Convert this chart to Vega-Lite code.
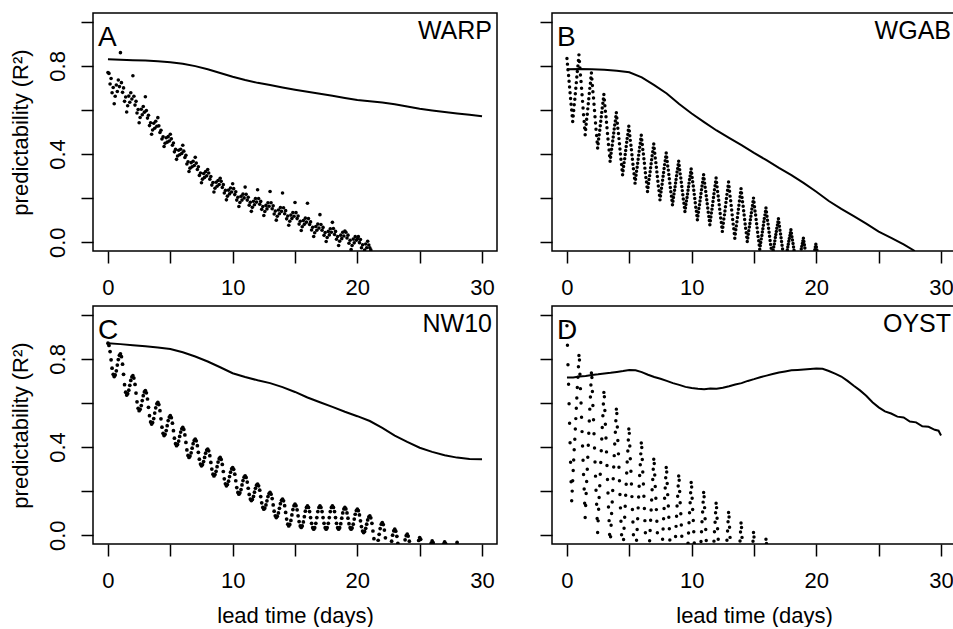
{
"$schema":"https://vega.github.io/schema/vega-lite/v6.json",
"padding":{"left":8,"top":12,"right":0,"bottom":0},
"columns":2,
"spacing":{"row":6,"column":40},
"config":{
"font":"Liberation Sans",
"view":{"stroke":"black","strokeWidth":1.5},
"text":{"color":"black","font":"Liberation Sans"},
"axis":{"domain":false,"grid":false,"tickColor":"black","tickWidth":1.5,"tickSize":12,"labelFont":"Liberation Sans","labelFontSize":22,"labelColor":"black","titleFont":"Liberation Sans","titleFontSize":22,"titleFontWeight":"normal","titleColor":"black","labelOverlap":false,"labelFlush":false},
"axisX":{"labelPadding":14,"titlePadding":14},
"axisY":{"labelAngle":-90,"labelAlign":"center","labelBaseline":"alphabetic","labelPadding":17,"titlePadding":14}
},
"datasets":{
"al":[{"x":0,"y":0.83},{"x":1,"y":0.828},{"x":2,"y":0.826},{"x":3,"y":0.824},{"x":4,"y":0.821},{"x":5,"y":0.817},{"x":6,"y":0.81},{"x":7,"y":0.799},{"x":8,"y":0.785},{"x":9,"y":0.768},{"x":10,"y":0.751},{"x":11,"y":0.736},{"x":12,"y":0.723},{"x":13,"y":0.713},{"x":14,"y":0.702},{"x":15,"y":0.692},{"x":16,"y":0.683},{"x":17,"y":0.674},{"x":18,"y":0.664},{"x":19,"y":0.654},{"x":20,"y":0.645},{"x":21,"y":0.639},{"x":22,"y":0.634},{"x":23,"y":0.626},{"x":24,"y":0.616},{"x":25,"y":0.606},{"x":26,"y":0.598},{"x":27,"y":0.591},{"x":28,"y":0.584},{"x":29,"y":0.578},{"x":30,"y":0.572}],
"bl":[{"x":0,"y":0.785},{"x":1,"y":0.786},{"x":2,"y":0.785},{"x":3,"y":0.782},{"x":4,"y":0.778},{"x":5,"y":0.771},{"x":6,"y":0.748},{"x":7,"y":0.713},{"x":8,"y":0.675},{"x":9,"y":0.627},{"x":10,"y":0.584},{"x":11,"y":0.545},{"x":12,"y":0.507},{"x":13,"y":0.473},{"x":14,"y":0.44},{"x":15,"y":0.405},{"x":16,"y":0.372},{"x":17,"y":0.337},{"x":18,"y":0.304},{"x":19,"y":0.268},{"x":20,"y":0.229},{"x":21,"y":0.187},{"x":22,"y":0.151},{"x":23,"y":0.118},{"x":24,"y":0.084},{"x":25,"y":0.048},{"x":26,"y":0.02},{"x":27,"y":-0.01},{"x":27.9,"y":-0.04}],
"cl":[{"x":0,"y":0.871},{"x":1,"y":0.867},{"x":2,"y":0.862},{"x":3,"y":0.857},{"x":4,"y":0.852},{"x":5,"y":0.845},{"x":6,"y":0.83},{"x":7,"y":0.811},{"x":8,"y":0.788},{"x":9,"y":0.762},{"x":10,"y":0.735},{"x":11,"y":0.718},{"x":12,"y":0.703},{"x":13,"y":0.69},{"x":14,"y":0.672},{"x":15,"y":0.65},{"x":16,"y":0.625},{"x":17,"y":0.603},{"x":18,"y":0.582},{"x":19,"y":0.56},{"x":20,"y":0.54},{"x":21,"y":0.518},{"x":22,"y":0.487},{"x":23,"y":0.452},{"x":24,"y":0.423},{"x":25,"y":0.397},{"x":26,"y":0.378},{"x":27,"y":0.363},{"x":28,"y":0.352},{"x":29,"y":0.346},{"x":30,"y":0.345}],
"dl":[{"x":0,"y":0.716},{"x":0.5,"y":0.716},{"x":1,"y":0.72},{"x":1.5,"y":0.722},{"x":2,"y":0.727},{"x":2.5,"y":0.73},{"x":3,"y":0.734},{"x":3.5,"y":0.737},{"x":4,"y":0.741},{"x":4.5,"y":0.745},{"x":5,"y":0.75},{"x":5.5,"y":0.748},{"x":6,"y":0.74},{"x":6.5,"y":0.728},{"x":7,"y":0.718},{"x":7.5,"y":0.71},{"x":8,"y":0.7},{"x":8.5,"y":0.69},{"x":9,"y":0.682},{"x":9.5,"y":0.673},{"x":10,"y":0.668},{"x":10.5,"y":0.664},{"x":11,"y":0.662},{"x":11.5,"y":0.666},{"x":12,"y":0.664},{"x":12.5,"y":0.669},{"x":13,"y":0.676},{"x":13.5,"y":0.684},{"x":14,"y":0.69},{"x":14.5,"y":0.7},{"x":15,"y":0.708},{"x":15.5,"y":0.717},{"x":16,"y":0.724},{"x":16.5,"y":0.731},{"x":17,"y":0.738},{"x":17.5,"y":0.743},{"x":18,"y":0.748},{"x":18.5,"y":0.75},{"x":19,"y":0.752},{"x":19.5,"y":0.754},{"x":20,"y":0.756},{"x":20.5,"y":0.755},{"x":21,"y":0.745},{"x":21.5,"y":0.733},{"x":22,"y":0.72},{"x":22.5,"y":0.7},{"x":23,"y":0.678},{"x":23.5,"y":0.657},{"x":24,"y":0.633},{"x":24.5,"y":0.603},{"x":25,"y":0.58},{"x":25.5,"y":0.562},{"x":26,"y":0.552},{"x":26.5,"y":0.538},{"x":27,"y":0.534},{"x":27.5,"y":0.516},{"x":28,"y":0.512},{"x":28.5,"y":0.494},{"x":29,"y":0.492},{"x":29.5,"y":0.478},{"x":29.8,"y":0.474},{"x":30,"y":0.452}],
"ad":[
{"x":0,"y":0.77},{"x":0.08,"y":0.766},{"x":0.17,"y":0.718},{"x":0.25,"y":0.743},{"x":0.33,"y":0.678},{"x":0.42,"y":0.702},{"x":0.5,"y":0.628},{"x":0.58,"y":0.662},{"x":0.67,"y":0.713},{"x":0.75,"y":0.684},{"x":0.83,"y":0.736},{"x":0.92,"y":0.706},
{"x":1,"y":0.86},{"x":1.08,"y":0.724},{"x":1.17,"y":0.68},{"x":1.25,"y":0.7},{"x":1.33,"y":0.639},{"x":1.42,"y":0.659},{"x":1.5,"y":0.591},{"x":1.58,"y":0.619},{"x":1.67,"y":0.663},{"x":1.75,"y":0.635},{"x":1.83,"y":0.678},{"x":1.92,"y":0.65},
{"x":2,"y":0.755},{"x":2.08,"y":0.662},{"x":2.17,"y":0.622},{"x":2.25,"y":0.639},{"x":2.33,"y":0.586},{"x":2.42,"y":0.602},{"x":2.5,"y":0.542},{"x":2.58,"y":0.566},{"x":2.67,"y":0.603},{"x":2.75,"y":0.578},{"x":2.83,"y":0.616},{"x":2.92,"y":0.59},
{"x":3,"y":0.66},{"x":3.08,"y":0.597},{"x":3.17,"y":0.563},{"x":3.25,"y":0.576},{"x":3.33,"y":0.529},{"x":3.42,"y":0.542},{"x":3.5,"y":0.49},{"x":3.58,"y":0.509},{"x":3.67,"y":0.54},{"x":3.75,"y":0.517},{"x":3.83,"y":0.549},{"x":3.92,"y":0.526},
{"x":4,"y":0.565},{"x":4.08,"y":0.528},{"x":4.17,"y":0.498},{"x":4.25,"y":0.508},{"x":4.33,"y":0.468},{"x":4.42,"y":0.478},{"x":4.5,"y":0.434},{"x":4.58,"y":0.449},{"x":4.67,"y":0.474},{"x":4.75,"y":0.454},{"x":4.83,"y":0.479},{"x":4.92,"y":0.459},
{"x":5,"y":0.49},{"x":5.08,"y":0.469},{"x":5.17,"y":0.44},{"x":5.25,"y":0.45},{"x":5.33,"y":0.41},{"x":5.42,"y":0.421},{"x":5.5,"y":0.376},{"x":5.58,"y":0.391},{"x":5.67,"y":0.417},{"x":5.75,"y":0.397},{"x":5.83,"y":0.422},{"x":5.92,"y":0.403},
{"x":6,"y":0.44},{"x":6.08,"y":0.413},{"x":6.17,"y":0.384},{"x":6.25,"y":0.394},{"x":6.33,"y":0.355},{"x":6.42,"y":0.365},{"x":6.5,"y":0.321},{"x":6.58,"y":0.336},{"x":6.67,"y":0.361},{"x":6.75,"y":0.342},{"x":6.83,"y":0.367},{"x":6.92,"y":0.348},
{"x":7,"y":0.385},{"x":7.08,"y":0.359},{"x":7.17,"y":0.33},{"x":7.25,"y":0.342},{"x":7.33,"y":0.303},{"x":7.42,"y":0.314},{"x":7.5,"y":0.27},{"x":7.58,"y":0.286},{"x":7.67,"y":0.312},{"x":7.75,"y":0.294},{"x":7.83,"y":0.32},{"x":7.92,"y":0.301},
{"x":8,"y":0.33},{"x":8.08,"y":0.314},{"x":8.17,"y":0.286},{"x":8.25,"y":0.298},{"x":8.33,"y":0.259},{"x":8.42,"y":0.271},{"x":8.5,"y":0.228},{"x":8.58,"y":0.245},{"x":8.67,"y":0.272},{"x":8.75,"y":0.254},{"x":8.83,"y":0.28},{"x":8.92,"y":0.262},
{"x":9,"y":0.29},{"x":9.08,"y":0.276},{"x":9.17,"y":0.248},{"x":9.25,"y":0.261},{"x":9.33,"y":0.223},{"x":9.42,"y":0.235},{"x":9.5,"y":0.192},{"x":9.58,"y":0.209},{"x":9.67,"y":0.236},{"x":9.75,"y":0.219},{"x":9.83,"y":0.246},{"x":9.92,"y":0.228},
{"x":10,"y":0.265},{"x":10.08,"y":0.243},{"x":10.17,"y":0.216},{"x":10.25,"y":0.229},{"x":10.33,"y":0.191},{"x":10.42,"y":0.204},{"x":10.5,"y":0.162},{"x":10.58,"y":0.18},{"x":10.67,"y":0.208},{"x":10.75,"y":0.191},{"x":10.83,"y":0.218},{"x":10.92,"y":0.201},
{"x":11,"y":0.25},{"x":11.08,"y":0.217},{"x":11.17,"y":0.191},{"x":11.25,"y":0.204},{"x":11.33,"y":0.168},{"x":11.42,"y":0.181},{"x":11.5,"y":0.14},{"x":11.58,"y":0.158},{"x":11.67,"y":0.186},{"x":11.75,"y":0.17},{"x":11.83,"y":0.198},{"x":11.92,"y":0.182},
{"x":12,"y":0.238},{"x":12.08,"y":0.198},{"x":12.17,"y":0.172},{"x":12.25,"y":0.185},{"x":12.33,"y":0.149},{"x":12.42,"y":0.162},{"x":12.5,"y":0.121},{"x":12.58,"y":0.139},{"x":12.67,"y":0.167},{"x":12.75,"y":0.151},{"x":12.83,"y":0.179},{"x":12.92,"y":0.163},
{"x":13,"y":0.23},{"x":13.08,"y":0.179},{"x":13.17,"y":0.152},{"x":13.25,"y":0.165},{"x":13.33,"y":0.128},{"x":13.42,"y":0.141},{"x":13.5,"y":0.1},{"x":13.58,"y":0.118},{"x":13.67,"y":0.146},{"x":13.75,"y":0.129},{"x":13.83,"y":0.157},{"x":13.92,"y":0.14},
{"x":14,"y":0.223},{"x":14.08,"y":0.156},{"x":14.17,"y":0.129},{"x":14.25,"y":0.143},{"x":14.33,"y":0.106},{"x":14.42,"y":0.119},{"x":14.5,"y":0.077},{"x":14.58,"y":0.095},{"x":14.67,"y":0.123},{"x":14.75,"y":0.107},{"x":14.83,"y":0.135},{"x":14.92,"y":0.118},
{"x":15,"y":0.18},{"x":15.08,"y":0.134},{"x":15.17,"y":0.107},{"x":15.25,"y":0.119},{"x":15.33,"y":0.082},{"x":15.42,"y":0.095},{"x":15.5,"y":0.053},{"x":15.58,"y":0.07},{"x":15.67,"y":0.098},{"x":15.75,"y":0.081},{"x":15.83,"y":0.109},{"x":15.92,"y":0.091},
{"x":16,"y":0.177},{"x":16.08,"y":0.107},{"x":16.17,"y":0.08},{"x":16.25,"y":0.092},{"x":16.33,"y":0.055},{"x":16.42,"y":0.068},{"x":16.5,"y":0.026},{"x":16.58,"y":0.043},{"x":16.67,"y":0.071},{"x":16.75,"y":0.054},{"x":16.83,"y":0.082},{"x":16.92,"y":0.064},
{"x":17,"y":0.125},{"x":17.08,"y":0.08},{"x":17.17,"y":0.054},{"x":17.25,"y":0.067},{"x":17.33,"y":0.031},{"x":17.42,"y":0.044},{"x":17.5,"y":0.003},{"x":17.58,"y":0.021},{"x":17.67,"y":0.049},{"x":17.75,"y":0.033},{"x":17.83,"y":0.061},{"x":17.92,"y":0.045},
{"x":18,"y":0.09},{"x":18.08,"y":0.062},{"x":18.17,"y":0.035},{"x":18.25,"y":0.049},{"x":18.33,"y":0.013},{"x":18.42,"y":0.026},{"x":18.5,"y":-0.015},{"x":18.58,"y":0.004},{"x":18.67,"y":0.032},{"x":18.75,"y":0.016},{"x":18.83,"y":0.045},{"x":18.92,"y":0.028},
{"x":19,"y":0.05},{"x":19.08,"y":0.045},{"x":19.17,"y":0.019},{"x":19.25,"y":0.032},{"x":19.33,"y":-0.005},{"x":19.42,"y":0.009},{"x":19.5,"y":-0.033},{"x":19.58,"y":-0.015},{"x":19.67,"y":0.014},{"x":19.75,"y":-0.003},{"x":19.83,"y":0.025},{"x":19.92,"y":0.009},
{"x":20,"y":0.015},{"x":20.08,"y":0.025},{"x":20.17,"y":-0.002},{"x":20.25,"y":0.012},{"x":20.33,"y":-0.025},{"x":20.42,"y":-0.012},{"x":20.58,"y":-0.036},{"x":20.67,"y":-0.008},{"x":20.75,"y":-0.025},{"x":20.83,"y":0.004},{"x":20.92,"y":-0.013},
{"x":21,"y":-0.025},{"x":21.08,"y":-0.035}
],
"bd":[
{"x":0,"y":0.834},{"x":0.04,"y":0.808},{"x":0.08,"y":0.782},{"x":0.13,"y":0.756},{"x":0.17,"y":0.73},{"x":0.21,"y":0.704},{"x":0.25,"y":0.678},{"x":0.29,"y":0.652},{"x":0.33,"y":0.626},{"x":0.38,"y":0.6},{"x":0.42,"y":0.574},{"x":0.46,"y":0.548},{"x":0.5,"y":0.573},{"x":0.54,"y":0.598},{"x":0.58,"y":0.624},{"x":0.63,"y":0.649},{"x":0.67,"y":0.674},{"x":0.71,"y":0.699},{"x":0.75,"y":0.724},{"x":0.79,"y":0.75},{"x":0.83,"y":0.775},{"x":0.88,"y":0.8},{"x":0.92,"y":0.825},
{"x":0.96,"y":0.85},{"x":1,"y":0.82},{"x":1.04,"y":0.79},{"x":1.08,"y":0.759},{"x":1.13,"y":0.729},{"x":1.17,"y":0.699},{"x":1.21,"y":0.669},{"x":1.25,"y":0.639},{"x":1.29,"y":0.609},{"x":1.33,"y":0.578},{"x":1.38,"y":0.548},{"x":1.42,"y":0.518},{"x":1.46,"y":0.488},{"x":1.5,"y":0.511},{"x":1.54,"y":0.535},{"x":1.58,"y":0.558},{"x":1.63,"y":0.581},{"x":1.67,"y":0.605},{"x":1.71,"y":0.628},{"x":1.75,"y":0.651},{"x":1.79,"y":0.675},{"x":1.83,"y":0.698},{"x":1.88,"y":0.721},{"x":1.92,"y":0.745},
{"x":1.96,"y":0.768},{"x":2,"y":0.74},{"x":2.04,"y":0.711},{"x":2.08,"y":0.683},{"x":2.13,"y":0.654},{"x":2.17,"y":0.626},{"x":2.21,"y":0.598},{"x":2.25,"y":0.569},{"x":2.29,"y":0.541},{"x":2.33,"y":0.512},{"x":2.38,"y":0.484},{"x":2.42,"y":0.455},{"x":2.46,"y":0.427},{"x":2.5,"y":0.447},{"x":2.54,"y":0.468},{"x":2.58,"y":0.488},{"x":2.63,"y":0.508},{"x":2.67,"y":0.528},{"x":2.71,"y":0.549},{"x":2.75,"y":0.569},{"x":2.79,"y":0.589},{"x":2.83,"y":0.609},{"x":2.88,"y":0.63},{"x":2.92,"y":0.65},
{"x":2.96,"y":0.67},{"x":3,"y":0.645},{"x":3.04,"y":0.619},{"x":3.08,"y":0.594},{"x":3.13,"y":0.569},{"x":3.17,"y":0.544},{"x":3.21,"y":0.519},{"x":3.25,"y":0.493},{"x":3.29,"y":0.468},{"x":3.33,"y":0.443},{"x":3.38,"y":0.418},{"x":3.42,"y":0.392},{"x":3.46,"y":0.367},{"x":3.5,"y":0.385},{"x":3.54,"y":0.404},{"x":3.58,"y":0.422},{"x":3.63,"y":0.44},{"x":3.67,"y":0.459},{"x":3.71,"y":0.477},{"x":3.75,"y":0.495},{"x":3.79,"y":0.514},{"x":3.83,"y":0.532},{"x":3.88,"y":0.55},{"x":3.92,"y":0.569},
{"x":3.96,"y":0.587},{"x":4,"y":0.564},{"x":4.04,"y":0.54},{"x":4.08,"y":0.517},{"x":4.13,"y":0.493},{"x":4.17,"y":0.47},{"x":4.21,"y":0.447},{"x":4.25,"y":0.423},{"x":4.29,"y":0.4},{"x":4.33,"y":0.376},{"x":4.38,"y":0.353},{"x":4.42,"y":0.329},{"x":4.46,"y":0.306},{"x":4.5,"y":0.324},{"x":4.54,"y":0.343},{"x":4.58,"y":0.361},{"x":4.63,"y":0.379},{"x":4.67,"y":0.398},{"x":4.71,"y":0.416},{"x":4.75,"y":0.434},{"x":4.79,"y":0.453},{"x":4.83,"y":0.471},{"x":4.88,"y":0.489},{"x":4.92,"y":0.508},
{"x":4.96,"y":0.526},{"x":5,"y":0.505},{"x":5.04,"y":0.483},{"x":5.08,"y":0.462},{"x":5.13,"y":0.44},{"x":5.17,"y":0.419},{"x":5.21,"y":0.397},{"x":5.25,"y":0.376},{"x":5.29,"y":0.354},{"x":5.33,"y":0.333},{"x":5.38,"y":0.311},{"x":5.42,"y":0.29},{"x":5.46,"y":0.268},{"x":5.5,"y":0.286},{"x":5.54,"y":0.304},{"x":5.58,"y":0.322},{"x":5.63,"y":0.34},{"x":5.67,"y":0.358},{"x":5.71,"y":0.376},{"x":5.75,"y":0.395},{"x":5.79,"y":0.413},{"x":5.83,"y":0.431},{"x":5.88,"y":0.449},{"x":5.92,"y":0.467},
{"x":5.96,"y":0.485},{"x":6,"y":0.464},{"x":6.04,"y":0.443},{"x":6.08,"y":0.421},{"x":6.13,"y":0.4},{"x":6.17,"y":0.379},{"x":6.21,"y":0.358},{"x":6.25,"y":0.336},{"x":6.29,"y":0.315},{"x":6.33,"y":0.294},{"x":6.38,"y":0.273},{"x":6.42,"y":0.251},{"x":6.46,"y":0.23},{"x":6.5,"y":0.248},{"x":6.54,"y":0.266},{"x":6.58,"y":0.284},{"x":6.63,"y":0.302},{"x":6.67,"y":0.32},{"x":6.71,"y":0.338},{"x":6.75,"y":0.356},{"x":6.79,"y":0.374},{"x":6.83,"y":0.392},{"x":6.88,"y":0.41},{"x":6.92,"y":0.428},
{"x":6.96,"y":0.446},{"x":7,"y":0.425},{"x":7.04,"y":0.404},{"x":7.08,"y":0.382},{"x":7.13,"y":0.361},{"x":7.17,"y":0.34},{"x":7.21,"y":0.319},{"x":7.25,"y":0.298},{"x":7.29,"y":0.277},{"x":7.33,"y":0.255},{"x":7.38,"y":0.234},{"x":7.42,"y":0.213},{"x":7.46,"y":0.192},{"x":7.5,"y":0.21},{"x":7.54,"y":0.228},{"x":7.58,"y":0.245},{"x":7.63,"y":0.263},{"x":7.67,"y":0.281},{"x":7.71,"y":0.299},{"x":7.75,"y":0.316},{"x":7.79,"y":0.334},{"x":7.83,"y":0.352},{"x":7.88,"y":0.37},{"x":7.92,"y":0.387},
{"x":7.96,"y":0.405},{"x":8,"y":0.385},{"x":8.04,"y":0.366},{"x":8.08,"y":0.346},{"x":8.13,"y":0.327},{"x":8.17,"y":0.307},{"x":8.21,"y":0.288},{"x":8.25,"y":0.268},{"x":8.29,"y":0.248},{"x":8.33,"y":0.229},{"x":8.38,"y":0.209},{"x":8.42,"y":0.19},{"x":8.46,"y":0.17},{"x":8.5,"y":0.186},{"x":8.54,"y":0.203},{"x":8.58,"y":0.219},{"x":8.63,"y":0.236},{"x":8.67,"y":0.252},{"x":8.71,"y":0.269},{"x":8.75,"y":0.285},{"x":8.79,"y":0.301},{"x":8.83,"y":0.318},{"x":8.88,"y":0.334},{"x":8.92,"y":0.351},
{"x":8.96,"y":0.367},{"x":9,"y":0.348},{"x":9.04,"y":0.329},{"x":9.08,"y":0.31},{"x":9.13,"y":0.291},{"x":9.17,"y":0.272},{"x":9.21,"y":0.253},{"x":9.25,"y":0.234},{"x":9.29,"y":0.215},{"x":9.33,"y":0.196},{"x":9.38,"y":0.177},{"x":9.42,"y":0.158},{"x":9.46,"y":0.139},{"x":9.5,"y":0.155},{"x":9.54,"y":0.171},{"x":9.58,"y":0.187},{"x":9.63,"y":0.203},{"x":9.67,"y":0.219},{"x":9.71,"y":0.236},{"x":9.75,"y":0.252},{"x":9.79,"y":0.268},{"x":9.83,"y":0.284},{"x":9.88,"y":0.3},{"x":9.92,"y":0.316},
{"x":9.96,"y":0.332},{"x":10,"y":0.313},{"x":10.04,"y":0.294},{"x":10.08,"y":0.274},{"x":10.13,"y":0.255},{"x":10.17,"y":0.236},{"x":10.21,"y":0.217},{"x":10.25,"y":0.198},{"x":10.29,"y":0.179},{"x":10.33,"y":0.159},{"x":10.38,"y":0.14},{"x":10.42,"y":0.121},{"x":10.46,"y":0.102},{"x":10.5,"y":0.119},{"x":10.54,"y":0.136},{"x":10.58,"y":0.153},{"x":10.63,"y":0.17},{"x":10.67,"y":0.187},{"x":10.71,"y":0.204},{"x":10.75,"y":0.221},{"x":10.79,"y":0.238},{"x":10.83,"y":0.255},{"x":10.88,"y":0.272},{"x":10.92,"y":0.289},
{"x":10.96,"y":0.306},{"x":11,"y":0.287},{"x":11.04,"y":0.268},{"x":11.08,"y":0.249},{"x":11.13,"y":0.23},{"x":11.17,"y":0.211},{"x":11.21,"y":0.193},{"x":11.25,"y":0.174},{"x":11.29,"y":0.155},{"x":11.33,"y":0.136},{"x":11.38,"y":0.117},{"x":11.42,"y":0.098},{"x":11.46,"y":0.079},{"x":11.5,"y":0.097},{"x":11.54,"y":0.114},{"x":11.58,"y":0.132},{"x":11.63,"y":0.15},{"x":11.67,"y":0.167},{"x":11.71,"y":0.185},{"x":11.75,"y":0.203},{"x":11.79,"y":0.22},{"x":11.83,"y":0.238},{"x":11.88,"y":0.256},{"x":11.92,"y":0.273},
{"x":11.96,"y":0.291},{"x":12,"y":0.271},{"x":12.04,"y":0.251},{"x":12.08,"y":0.23},{"x":12.13,"y":0.21},{"x":12.17,"y":0.19},{"x":12.21,"y":0.17},{"x":12.25,"y":0.15},{"x":12.29,"y":0.13},{"x":12.33,"y":0.11},{"x":12.38,"y":0.089},{"x":12.42,"y":0.069},{"x":12.46,"y":0.049},{"x":12.5,"y":0.068},{"x":12.54,"y":0.086},{"x":12.58,"y":0.105},{"x":12.63,"y":0.124},{"x":12.67,"y":0.142},{"x":12.71,"y":0.161},{"x":12.75,"y":0.18},{"x":12.79,"y":0.198},{"x":12.83,"y":0.217},{"x":12.88,"y":0.236},{"x":12.92,"y":0.254},
{"x":12.96,"y":0.273},{"x":13,"y":0.252},{"x":13.04,"y":0.231},{"x":13.08,"y":0.209},{"x":13.13,"y":0.188},{"x":13.17,"y":0.167},{"x":13.21,"y":0.146},{"x":13.25,"y":0.124},{"x":13.29,"y":0.103},{"x":13.33,"y":0.082},{"x":13.38,"y":0.061},{"x":13.42,"y":0.039},{"x":13.46,"y":0.018},{"x":13.5,"y":0.037},{"x":13.54,"y":0.056},{"x":13.58,"y":0.074},{"x":13.63,"y":0.093},{"x":13.67,"y":0.112},{"x":13.71,"y":0.131},{"x":13.75,"y":0.149},{"x":13.79,"y":0.168},{"x":13.83,"y":0.187},{"x":13.88,"y":0.206},{"x":13.92,"y":0.224},
{"x":13.96,"y":0.243},{"x":14,"y":0.223},{"x":14.04,"y":0.203},{"x":14.08,"y":0.183},{"x":14.13,"y":0.163},{"x":14.17,"y":0.143},{"x":14.21,"y":0.123},{"x":14.25,"y":0.103},{"x":14.29,"y":0.083},{"x":14.33,"y":0.063},{"x":14.38,"y":0.043},{"x":14.42,"y":0.023},{"x":14.46,"y":0.003},{"x":14.5,"y":0.019},{"x":14.54,"y":0.036},{"x":14.58,"y":0.052},{"x":14.63,"y":0.069},{"x":14.67,"y":0.085},{"x":14.71,"y":0.102},{"x":14.75,"y":0.118},{"x":14.79,"y":0.134},{"x":14.83,"y":0.151},{"x":14.88,"y":0.167},{"x":14.92,"y":0.184},
{"x":14.96,"y":0.2},{"x":15,"y":0.181},{"x":15.04,"y":0.161},{"x":15.08,"y":0.142},{"x":15.13,"y":0.123},{"x":15.17,"y":0.103},{"x":15.21,"y":0.084},{"x":15.25,"y":0.065},{"x":15.29,"y":0.045},{"x":15.33,"y":0.026},{"x":15.38,"y":0.007},{"x":15.42,"y":-0.013},{"x":15.46,"y":-0.032},{"x":15.5,"y":-0.016},{"x":15.54,"y":-0.001},{"x":15.58,"y":0.015},{"x":15.63,"y":0.03},{"x":15.67,"y":0.046},{"x":15.71,"y":0.061},{"x":15.75,"y":0.077},{"x":15.79,"y":0.093},{"x":15.83,"y":0.108},{"x":15.88,"y":0.124},{"x":15.92,"y":0.139},
{"x":15.96,"y":0.155},{"x":16,"y":0.137},{"x":16.04,"y":0.118},{"x":16.08,"y":0.1},{"x":16.13,"y":0.082},{"x":16.17,"y":0.063},{"x":16.21,"y":0.045},{"x":16.25,"y":0.027},{"x":16.29,"y":0.008},{"x":16.33,"y":-0.01},{"x":16.38,"y":-0.028},{"x":16.54,"y":-0.037},{"x":16.58,"y":-0.022},{"x":16.63,"y":-0.008},{"x":16.67,"y":0.006},{"x":16.71,"y":0.021},{"x":16.75,"y":0.035},{"x":16.79,"y":0.049},{"x":16.83,"y":0.063},{"x":16.88,"y":0.078},{"x":16.92,"y":0.092},
{"x":16.96,"y":0.106},{"x":17,"y":0.089},{"x":17.04,"y":0.072},{"x":17.08,"y":0.054},{"x":17.13,"y":0.037},{"x":17.17,"y":0.02},{"x":17.21,"y":0.003},{"x":17.25,"y":-0.014},{"x":17.29,"y":-0.031},{"x":17.67,"y":-0.035},{"x":17.71,"y":-0.022},{"x":17.75,"y":-0.009},{"x":17.79,"y":0.004},{"x":17.83,"y":0.017},{"x":17.88,"y":0.03},{"x":17.92,"y":0.043},
{"x":17.96,"y":0.056},{"x":18,"y":0.041},{"x":18.04,"y":0.025},{"x":18.08,"y":0.01},{"x":18.13,"y":-0.006},{"x":18.17,"y":-0.022},{"x":18.21,"y":-0.037},{"x":18.79,"y":-0.031},{"x":18.83,"y":-0.019},{"x":18.88,"y":-0.006},{"x":18.92,"y":0.006},
{"x":18.96,"y":0.018},{"x":19,"y":0.003},{"x":19.04,"y":-0.012},{"x":19.08,"y":-0.026},{"x":19.88,"y":-0.034},{"x":19.92,"y":-0.022},
{"x":19.96,"y":-0.009},{"x":20,"y":-0.022},{"x":20.04,"y":-0.035}
],
"cd":[
{"x":0,"y":0.871},{"x":0.08,"y":0.861},{"x":0.17,"y":0.833},{"x":0.25,"y":0.796},{"x":0.33,"y":0.758},{"x":0.42,"y":0.73},{"x":0.5,"y":0.72},{"x":0.58,"y":0.727},{"x":0.67,"y":0.746},{"x":0.75,"y":0.772},{"x":0.83,"y":0.797},{"x":0.92,"y":0.816},
{"x":1,"y":0.823},{"x":1.08,"y":0.81},{"x":1.17,"y":0.776},{"x":1.25,"y":0.73},{"x":1.33,"y":0.683},{"x":1.42,"y":0.649},{"x":1.5,"y":0.636},{"x":1.58,"y":0.642},{"x":1.67,"y":0.658},{"x":1.75,"y":0.68},{"x":1.83,"y":0.702},{"x":1.92,"y":0.718},
{"x":2,"y":0.724},{"x":2.08,"y":0.713},{"x":2.17,"y":0.684},{"x":2.25,"y":0.645},{"x":2.33,"y":0.605},{"x":2.42,"y":0.576},{"x":2.5,"y":0.565},{"x":2.58,"y":0.571},{"x":2.67,"y":0.588},{"x":2.75,"y":0.611},{"x":2.83,"y":0.633},{"x":2.92,"y":0.65},
{"x":3,"y":0.656},{"x":3.08,"y":0.646},{"x":3.17,"y":0.618},{"x":3.25,"y":0.58},{"x":3.33,"y":0.542},{"x":3.42,"y":0.514},{"x":3.5,"y":0.504},{"x":3.58,"y":0.511},{"x":3.67,"y":0.529},{"x":3.75,"y":0.554},{"x":3.83,"y":0.578},{"x":3.92,"y":0.596},
{"x":4,"y":0.603},{"x":4.08,"y":0.593},{"x":4.17,"y":0.565},{"x":4.25,"y":0.528},{"x":4.33,"y":0.49},{"x":4.42,"y":0.462},{"x":4.5,"y":0.452},{"x":4.58,"y":0.458},{"x":4.67,"y":0.475},{"x":4.75,"y":0.497},{"x":4.83,"y":0.52},{"x":4.92,"y":0.536},
{"x":5,"y":0.542},{"x":5.08,"y":0.533},{"x":5.17,"y":0.508},{"x":5.25,"y":0.474},{"x":5.33,"y":0.44},{"x":5.42,"y":0.415},{"x":5.5,"y":0.406},{"x":5.58,"y":0.412},{"x":5.67,"y":0.427},{"x":5.75,"y":0.448},{"x":5.83,"y":0.468},{"x":5.92,"y":0.483},
{"x":6,"y":0.489},{"x":6.08,"y":0.48},{"x":6.17,"y":0.455},{"x":6.25,"y":0.421},{"x":6.33,"y":0.387},{"x":6.42,"y":0.362},{"x":6.5,"y":0.353},{"x":6.58,"y":0.359},{"x":6.67,"y":0.374},{"x":6.75,"y":0.395},{"x":6.83,"y":0.415},{"x":6.92,"y":0.43},
{"x":7,"y":0.436},{"x":7.08,"y":0.428},{"x":7.17,"y":0.406},{"x":7.25,"y":0.376},{"x":7.33,"y":0.345},{"x":7.42,"y":0.323},{"x":7.5,"y":0.315},{"x":7.58,"y":0.32},{"x":7.67,"y":0.334},{"x":7.75,"y":0.353},{"x":7.83,"y":0.372},{"x":7.92,"y":0.386},
{"x":8,"y":0.391},{"x":8.08,"y":0.383},{"x":8.17,"y":0.361},{"x":8.25,"y":0.33},{"x":8.33,"y":0.3},{"x":8.42,"y":0.277},{"x":8.5,"y":0.269},{"x":8.58,"y":0.275},{"x":8.67,"y":0.29},{"x":8.75,"y":0.311},{"x":8.83,"y":0.332},{"x":8.92,"y":0.347},
{"x":9,"y":0.353},{"x":9.08,"y":0.344},{"x":9.17,"y":0.321},{"x":9.25,"y":0.289},{"x":9.33,"y":0.256},{"x":9.42,"y":0.233},{"x":9.5,"y":0.224},{"x":9.58,"y":0.23},{"x":9.67,"y":0.245},{"x":9.75,"y":0.266},{"x":9.83,"y":0.286},{"x":9.92,"y":0.301},
{"x":10,"y":0.307},{"x":10.08,"y":0.299},{"x":10.17,"y":0.277},{"x":10.25,"y":0.247},{"x":10.33,"y":0.216},{"x":10.42,"y":0.194},{"x":10.5,"y":0.186},{"x":10.58,"y":0.192},{"x":10.67,"y":0.207},{"x":10.75,"y":0.228},{"x":10.83,"y":0.248},{"x":10.92,"y":0.263},
{"x":11,"y":0.269},{"x":11.08,"y":0.262},{"x":11.17,"y":0.241},{"x":11.25,"y":0.213},{"x":11.33,"y":0.185},{"x":11.42,"y":0.164},{"x":11.5,"y":0.157},{"x":11.58,"y":0.162},{"x":11.67,"y":0.176},{"x":11.75,"y":0.195},{"x":11.83,"y":0.213},{"x":11.92,"y":0.227},
{"x":12,"y":0.232},{"x":12.08,"y":0.224},{"x":12.17,"y":0.204},{"x":12.25,"y":0.175},{"x":12.33,"y":0.147},{"x":12.42,"y":0.126},{"x":12.5,"y":0.118},{"x":12.58,"y":0.123},{"x":12.67,"y":0.137},{"x":12.75,"y":0.156},{"x":12.83,"y":0.175},{"x":12.92,"y":0.189},
{"x":13,"y":0.194},{"x":13.08,"y":0.186},{"x":13.17,"y":0.166},{"x":13.25,"y":0.137},{"x":13.33,"y":0.109},{"x":13.42,"y":0.088},{"x":13.5,"y":0.08},{"x":13.58,"y":0.086},{"x":13.67,"y":0.101},{"x":13.75,"y":0.122},{"x":13.83,"y":0.143},{"x":13.92,"y":0.158},
{"x":14,"y":0.164},{"x":14.08,"y":0.156},{"x":14.17,"y":0.134},{"x":14.25,"y":0.103},{"x":14.33,"y":0.073},{"x":14.42,"y":0.05},{"x":14.5,"y":0.042},{"x":14.58,"y":0.049},{"x":14.67,"y":0.067},{"x":14.75,"y":0.092},{"x":14.83,"y":0.116},{"x":14.92,"y":0.134},
{"x":15,"y":0.141},{"x":15.08,"y":0.134},{"x":15.17,"y":0.115},{"x":15.25,"y":0.088},{"x":15.33,"y":0.062},{"x":15.42,"y":0.042},{"x":15.5,"y":0.035},{"x":15.58,"y":0.042},{"x":15.67,"y":0.06},{"x":15.75,"y":0.084},{"x":15.83,"y":0.109},{"x":15.92,"y":0.126},
{"x":16,"y":0.133},{"x":16.08,"y":0.126},{"x":16.17,"y":0.107},{"x":16.25,"y":0.08},{"x":16.33,"y":0.054},{"x":16.42,"y":0.034},{"x":16.5,"y":0.027},{"x":16.58,"y":0.034},{"x":16.67,"y":0.054},{"x":16.75,"y":0.08},{"x":16.83,"y":0.107},{"x":16.92,"y":0.126},
{"x":17,"y":0.133},{"x":17.08,"y":0.126},{"x":17.17,"y":0.107},{"x":17.25,"y":0.08},{"x":17.33,"y":0.054},{"x":17.42,"y":0.034},{"x":17.5,"y":0.027},{"x":17.58,"y":0.034},{"x":17.67,"y":0.054},{"x":17.75,"y":0.08},{"x":17.83,"y":0.107},{"x":17.92,"y":0.126},
{"x":18,"y":0.133},{"x":18.08,"y":0.126},{"x":18.17,"y":0.107},{"x":18.25,"y":0.08},{"x":18.33,"y":0.054},{"x":18.42,"y":0.034},{"x":18.5,"y":0.027},{"x":18.58,"y":0.034},{"x":18.67,"y":0.052},{"x":18.75,"y":0.077},{"x":18.83,"y":0.101},{"x":18.92,"y":0.119},
{"x":19,"y":0.126},{"x":19.08,"y":0.119},{"x":19.17,"y":0.101},{"x":19.25,"y":0.077},{"x":19.33,"y":0.052},{"x":19.42,"y":0.034},{"x":19.5,"y":0.027},{"x":19.58,"y":0.033},{"x":19.67,"y":0.05},{"x":19.75,"y":0.073},{"x":19.83,"y":0.095},{"x":19.92,"y":0.112},
{"x":20,"y":0.118},{"x":20.08,"y":0.111},{"x":20.17,"y":0.092},{"x":20.25,"y":0.065},{"x":20.33,"y":0.039},{"x":20.42,"y":0.019},{"x":20.5,"y":0.012},{"x":20.58,"y":0.017},{"x":20.67,"y":0.031},{"x":20.75,"y":0.05},{"x":20.83,"y":0.069},{"x":20.92,"y":0.083},
{"x":21,"y":0.088},{"x":21.08,"y":0.079},{"x":21.17,"y":0.054},{"x":21.25,"y":0.019},{"x":21.33,"y":-0.016},{"x":21.67,"y":-0.023},{"x":21.75,"y":0.004},{"x":21.83,"y":0.03},{"x":21.92,"y":0.05},
{"x":22,"y":0.057},{"x":22.08,"y":0.048},{"x":22.17,"y":0.023},{"x":22.25,"y":-0.012},{"x":22.75,"y":-0.027},{"x":22.83,"y":0},{"x":22.92,"y":0.02},
{"x":23,"y":0.027},{"x":23.08,"y":0.018},{"x":23.17,"y":-0.005},{"x":23.25,"y":-0.037},{"x":23.83,"y":-0.021},{"x":23.92,"y":-0.002},
{"x":24,"y":0.005},{"x":24.08,"y":-0.004},{"x":24.17,"y":-0.027},{"x":24.92,"y":-0.024},
{"x":25,"y":-0.011},{"x":25.08,"y":-0.019},{"x":25.92,"y":-0.036},
{"x":26,"y":-0.026},{"x":26.08,"y":-0.034},{"x":26.92,"y":-0.039},
{"x":27,"y":-0.03},{"x":27.08,"y":-0.038},{"x":28,"y":-0.033}
],
"dd":[
{"x":0,"y":0.95},{"x":0.04,"y":0.862},{"x":0.08,"y":0.773},{"x":0.13,"y":0.685},{"x":0.17,"y":0.596},{"x":0.21,"y":0.508},{"x":0.25,"y":0.419},{"x":0.29,"y":0.331},{"x":0.33,"y":0.242},{"x":0.38,"y":0.156},{"x":0.42,"y":0.2},{"x":0.46,"y":0.247},{"x":0.5,"y":0.294},{"x":0.54,"y":0.341},{"x":0.58,"y":0.388},{"x":0.63,"y":0.435},{"x":0.67,"y":0.482},{"x":0.71,"y":0.529},{"x":0.75,"y":0.576},{"x":0.79,"y":0.623},{"x":0.83,"y":0.67},{"x":0.88,"y":0.717},{"x":0.92,"y":0.764},
{"x":0.96,"y":0.815},{"x":1,"y":0.795},{"x":1.04,"y":0.73},{"x":1.08,"y":0.665},{"x":1.13,"y":0.6},{"x":1.17,"y":0.535},{"x":1.21,"y":0.47},{"x":1.25,"y":0.405},{"x":1.29,"y":0.34},{"x":1.33,"y":0.275},{"x":1.38,"y":0.21},{"x":1.42,"y":0.145},{"x":1.46,"y":0.08},{"x":1.5,"y":0.135},{"x":1.54,"y":0.189},{"x":1.58,"y":0.244},{"x":1.63,"y":0.299},{"x":1.67,"y":0.354},{"x":1.71,"y":0.408},{"x":1.75,"y":0.463},{"x":1.79,"y":0.518},{"x":1.83,"y":0.572},{"x":1.88,"y":0.627},{"x":1.92,"y":0.682},
{"x":1.96,"y":0.736},{"x":2,"y":0.716},{"x":2.04,"y":0.652},{"x":2.08,"y":0.588},{"x":2.13,"y":0.524},{"x":2.17,"y":0.46},{"x":2.21,"y":0.396},{"x":2.25,"y":0.332},{"x":2.29,"y":0.268},{"x":2.33,"y":0.204},{"x":2.38,"y":0.14},{"x":2.42,"y":0.076},{"x":2.46,"y":0.012},{"x":2.5,"y":0.065},{"x":2.54,"y":0.118},{"x":2.58,"y":0.171},{"x":2.63,"y":0.224},{"x":2.67,"y":0.277},{"x":2.71,"y":0.33},{"x":2.75,"y":0.383},{"x":2.79,"y":0.436},{"x":2.83,"y":0.489},{"x":2.88,"y":0.542},{"x":2.92,"y":0.595},
{"x":2.96,"y":0.648},{"x":3,"y":0.628},{"x":3.04,"y":0.566},{"x":3.08,"y":0.503},{"x":3.13,"y":0.441},{"x":3.17,"y":0.378},{"x":3.21,"y":0.316},{"x":3.25,"y":0.253},{"x":3.29,"y":0.191},{"x":3.33,"y":0.128},{"x":3.38,"y":0.066},{"x":3.42,"y":0.003},{"x":3.5,"y":-0.007},{"x":3.54,"y":0.045},{"x":3.58,"y":0.098},{"x":3.63,"y":0.151},{"x":3.67,"y":0.203},{"x":3.71,"y":0.256},{"x":3.75,"y":0.309},{"x":3.79,"y":0.361},{"x":3.83,"y":0.414},{"x":3.88,"y":0.467},{"x":3.92,"y":0.519},
{"x":3.96,"y":0.572},{"x":4,"y":0.552},{"x":4.04,"y":0.491},{"x":4.08,"y":0.43},{"x":4.13,"y":0.369},{"x":4.17,"y":0.308},{"x":4.21,"y":0.247},{"x":4.25,"y":0.185},{"x":4.29,"y":0.124},{"x":4.33,"y":0.063},{"x":4.38,"y":0.002},{"x":4.54,"y":-0.02},{"x":4.58,"y":0.031},{"x":4.63,"y":0.081},{"x":4.67,"y":0.131},{"x":4.71,"y":0.181},{"x":4.75,"y":0.231},{"x":4.79,"y":0.282},{"x":4.83,"y":0.332},{"x":4.88,"y":0.382},{"x":4.92,"y":0.432},
{"x":4.96,"y":0.482},{"x":5,"y":0.462},{"x":5.04,"y":0.405},{"x":5.08,"y":0.347},{"x":5.13,"y":0.29},{"x":5.17,"y":0.232},{"x":5.21,"y":0.175},{"x":5.25,"y":0.117},{"x":5.29,"y":0.06},{"x":5.33,"y":0.002},{"x":5.58,"y":-0.023},{"x":5.63,"y":0.026},{"x":5.67,"y":0.075},{"x":5.71,"y":0.124},{"x":5.75,"y":0.173},{"x":5.79,"y":0.222},{"x":5.83,"y":0.271},{"x":5.88,"y":0.32},{"x":5.92,"y":0.369},
{"x":5.96,"y":0.418},{"x":6,"y":0.398},{"x":6.04,"y":0.343},{"x":6.08,"y":0.287},{"x":6.13,"y":0.232},{"x":6.17,"y":0.177},{"x":6.21,"y":0.121},{"x":6.25,"y":0.066},{"x":6.29,"y":0.011},{"x":6.63,"y":-0.025},{"x":6.67,"y":0.021},{"x":6.71,"y":0.068},{"x":6.75,"y":0.114},{"x":6.79,"y":0.16},{"x":6.83,"y":0.206},{"x":6.88,"y":0.253},{"x":6.92,"y":0.299},
{"x":6.96,"y":0.345},{"x":7,"y":0.325},{"x":7.04,"y":0.273},{"x":7.08,"y":0.221},{"x":7.13,"y":0.168},{"x":7.17,"y":0.116},{"x":7.21,"y":0.063},{"x":7.25,"y":0.011},{"x":7.67,"y":-0.018},{"x":7.71,"y":0.028},{"x":7.75,"y":0.075},{"x":7.79,"y":0.121},{"x":7.83,"y":0.168},{"x":7.88,"y":0.214},{"x":7.92,"y":0.261},
{"x":7.96,"y":0.307},{"x":8,"y":0.287},{"x":8.04,"y":0.235},{"x":8.08,"y":0.184},{"x":8.13,"y":0.132},{"x":8.17,"y":0.081},{"x":8.21,"y":0.029},{"x":8.25,"y":-0.022},{"x":8.71,"y":-0.006},{"x":8.75,"y":0.04},{"x":8.79,"y":0.086},{"x":8.83,"y":0.132},{"x":8.88,"y":0.177},{"x":8.92,"y":0.223},
{"x":8.96,"y":0.269},{"x":9,"y":0.249},{"x":9.04,"y":0.198},{"x":9.08,"y":0.147},{"x":9.13,"y":0.097},{"x":9.17,"y":0.046},{"x":9.21,"y":-0.005},{"x":9.71,"y":-0.036},{"x":9.75,"y":0.01},{"x":9.79,"y":0.056},{"x":9.83,"y":0.102},{"x":9.88,"y":0.147},{"x":9.92,"y":0.193},
{"x":9.96,"y":0.239},{"x":10,"y":0.219},{"x":10.04,"y":0.168},{"x":10.08,"y":0.117},{"x":10.13,"y":0.067},{"x":10.17,"y":0.016},{"x":10.21,"y":-0.035},{"x":10.75,"y":-0.029},{"x":10.79,"y":0.016},{"x":10.83,"y":0.061},{"x":10.88,"y":0.105},{"x":10.92,"y":0.15},
{"x":10.96,"y":0.194},{"x":11,"y":0.174},{"x":11.04,"y":0.125},{"x":11.08,"y":0.075},{"x":11.13,"y":0.026},{"x":11.17,"y":-0.024},{"x":11.79,"y":-0.027},{"x":11.83,"y":0.016},{"x":11.88,"y":0.059},{"x":11.92,"y":0.102},
{"x":11.96,"y":0.145},{"x":12,"y":0.125},{"x":12.04,"y":0.077},{"x":12.08,"y":0.029},{"x":12.13,"y":-0.018},{"x":12.83,"y":-0.023},{"x":12.88,"y":0.019},{"x":12.92,"y":0.061},
{"x":12.96,"y":0.103},{"x":13,"y":0.083},{"x":13.04,"y":0.036},{"x":13.08,"y":-0.01},{"x":13.88,"y":-0.026},{"x":13.92,"y":0.014},
{"x":13.96,"y":0.055},{"x":14,"y":0.035},{"x":14.04,"y":-0.01},{"x":14.92,"y":-0.028},
{"x":14.96,"y":0.012},{"x":15,"y":-0.008},{"x":15.96,"y":-0.018},{"x":16,"y":-0.038}
]
},
"concat":[
{"width":404,"height":238,
"layer":[
{"data":{"name":"al"},"mark":{"type":"line","color":"black","strokeWidth":2,"clip":true},"encoding":{
"x":{"field":"x","type":"quantitative","scale":{"domain":[-1.2,31.2],"nice":false,"zero":false},"axis":{"title":null,"values":[0,5,10,15,20,25,30],"labelExpr":"datum.value % 10 == 0 ? datum.label : ''"}},
"y":{"field":"y","type":"quantitative","scale":{"domain":[-0.04,1.04],"nice":false,"zero":false},"axis":{"title":"predictability (R²)","values":[0,0.2,0.4,0.6,0.8,1],"labelExpr":"datum.value == 0 || datum.value == 0.4 || datum.value == 0.8 ? format(datum.value, '.1f') : ''"}}}},
{"data":{"name":"ad"},"mark":{"type":"circle","color":"black","size":13,"opacity":1,"clip":true},"encoding":{
"x":{"field":"x","type":"quantitative","scale":{"domain":[-1.2,31.2],"nice":false,"zero":false},"axis":{"title":null,"values":[0,5,10,15,20,25,30],"labelExpr":"datum.value % 10 == 0 ? datum.label : ''"}},
"y":{"field":"y","type":"quantitative","scale":{"domain":[-0.04,1.04],"nice":false,"zero":false},"axis":{"title":"predictability (R²)","values":[0,0.2,0.4,0.6,0.8,1],"labelExpr":"datum.value == 0 || datum.value == 0.4 || datum.value == 0.8 ? format(datum.value, '.1f') : ''"}}}},
{"data":{"values":[{"t":"A"}]},"mark":{"type":"text","align":"left","baseline":"alphabetic","fontSize":28,"color":"black"},"encoding":{"x":{"datum":-0.8,"type":"quantitative"},"y":{"datum":0.89,"type":"quantitative"},"text":{"field":"t"}}},
{"data":{"values":[{"t":"WARP"}]},"mark":{"type":"text","align":"right","baseline":"alphabetic","fontSize":25,"color":"black"},"encoding":{"x":{"datum":30.8,"type":"quantitative"},"y":{"datum":0.923,"type":"quantitative"},"text":{"field":"t"}}}
]},
{"width":404,"height":238,
"layer":[
{"data":{"name":"bl"},"mark":{"type":"line","color":"black","strokeWidth":2,"clip":true},"encoding":{
"x":{"field":"x","type":"quantitative","scale":{"domain":[-1.2,31.2],"nice":false,"zero":false},"axis":{"title":null,"values":[0,5,10,15,20,25,30],"labelExpr":"datum.value % 10 == 0 ? datum.label : ''"}},
"y":{"field":"y","type":"quantitative","scale":{"domain":[-0.04,1.04],"nice":false,"zero":false},"axis":{"title":null,"labels":false,"values":[0,0.2,0.4,0.6,0.8,1]}}}},
{"data":{"name":"bd"},"mark":{"type":"circle","color":"black","size":12,"opacity":1,"clip":true},"encoding":{
"x":{"field":"x","type":"quantitative","scale":{"domain":[-1.2,31.2],"nice":false,"zero":false},"axis":{"title":null,"values":[0,5,10,15,20,25,30],"labelExpr":"datum.value % 10 == 0 ? datum.label : ''"}},
"y":{"field":"y","type":"quantitative","scale":{"domain":[-0.04,1.04],"nice":false,"zero":false},"axis":{"title":null,"labels":false,"values":[0,0.2,0.4,0.6,0.8,1]}}}},
{"data":{"values":[{"t":"B"}]},"mark":{"type":"text","align":"left","baseline":"alphabetic","fontSize":28,"color":"black"},"encoding":{"x":{"datum":-0.8,"type":"quantitative"},"y":{"datum":0.89,"type":"quantitative"},"text":{"field":"t"}}},
{"data":{"values":[{"t":"WGAB"}]},"mark":{"type":"text","align":"right","baseline":"alphabetic","fontSize":25,"color":"black"},"encoding":{"x":{"datum":30.8,"type":"quantitative"},"y":{"datum":0.923,"type":"quantitative"},"text":{"field":"t"}}}
]},
{"width":404,"height":238,
"layer":[
{"data":{"name":"cl"},"mark":{"type":"line","color":"black","strokeWidth":2,"clip":true},"encoding":{
"x":{"field":"x","type":"quantitative","scale":{"domain":[-1.2,31.2],"nice":false,"zero":false},"axis":{"title":"lead time (days)","values":[0,5,10,15,20,25,30],"labelExpr":"datum.value % 10 == 0 ? datum.label : ''"}},
"y":{"field":"y","type":"quantitative","scale":{"domain":[-0.04,1.04],"nice":false,"zero":false},"axis":{"title":"predictability (R²)","values":[0,0.2,0.4,0.6,0.8,1],"labelExpr":"datum.value == 0 || datum.value == 0.4 || datum.value == 0.8 ? format(datum.value, '.1f') : ''"}}}},
{"data":{"name":"cd"},"mark":{"type":"circle","color":"black","size":14,"opacity":1,"clip":true},"encoding":{
"x":{"field":"x","type":"quantitative","scale":{"domain":[-1.2,31.2],"nice":false,"zero":false},"axis":{"title":"lead time (days)","values":[0,5,10,15,20,25,30],"labelExpr":"datum.value % 10 == 0 ? datum.label : ''"}},
"y":{"field":"y","type":"quantitative","scale":{"domain":[-0.04,1.04],"nice":false,"zero":false},"axis":{"title":"predictability (R²)","values":[0,0.2,0.4,0.6,0.8,1],"labelExpr":"datum.value == 0 || datum.value == 0.4 || datum.value == 0.8 ? format(datum.value, '.1f') : ''"}}}},
{"data":{"values":[{"t":"C"}]},"mark":{"type":"text","align":"left","baseline":"alphabetic","fontSize":28,"color":"black"},"encoding":{"x":{"datum":-0.8,"type":"quantitative"},"y":{"datum":0.89,"type":"quantitative"},"text":{"field":"t"}}},
{"data":{"values":[{"t":"NW10"}]},"mark":{"type":"text","align":"right","baseline":"alphabetic","fontSize":25,"color":"black"},"encoding":{"x":{"datum":30.8,"type":"quantitative"},"y":{"datum":0.923,"type":"quantitative"},"text":{"field":"t"}}}
]},
{"width":404,"height":238,
"layer":[
{"data":{"name":"dl"},"mark":{"type":"line","color":"black","strokeWidth":2,"clip":true},"encoding":{
"x":{"field":"x","type":"quantitative","scale":{"domain":[-1.2,31.2],"nice":false,"zero":false},"axis":{"title":"lead time (days)","values":[0,5,10,15,20,25,30],"labelExpr":"datum.value % 10 == 0 ? datum.label : ''"}},
"y":{"field":"y","type":"quantitative","scale":{"domain":[-0.04,1.04],"nice":false,"zero":false},"axis":{"title":null,"labels":false,"values":[0,0.2,0.4,0.6,0.8,1]}}}},
{"data":{"name":"dd"},"mark":{"type":"circle","color":"black","size":12,"opacity":1,"clip":true},"encoding":{
"x":{"field":"x","type":"quantitative","scale":{"domain":[-1.2,31.2],"nice":false,"zero":false},"axis":{"title":"lead time (days)","values":[0,5,10,15,20,25,30],"labelExpr":"datum.value % 10 == 0 ? datum.label : ''"}},
"y":{"field":"y","type":"quantitative","scale":{"domain":[-0.04,1.04],"nice":false,"zero":false},"axis":{"title":null,"labels":false,"values":[0,0.2,0.4,0.6,0.8,1]}}}},
{"data":{"values":[{"t":"D"}]},"mark":{"type":"text","align":"left","baseline":"alphabetic","fontSize":28,"color":"black"},"encoding":{"x":{"datum":-0.8,"type":"quantitative"},"y":{"datum":0.89,"type":"quantitative"},"text":{"field":"t"}}},
{"data":{"values":[{"t":"OYST"}]},"mark":{"type":"text","align":"right","baseline":"alphabetic","fontSize":25,"color":"black"},"encoding":{"x":{"datum":30.8,"type":"quantitative"},"y":{"datum":0.923,"type":"quantitative"},"text":{"field":"t"}}}
]}
]
}
